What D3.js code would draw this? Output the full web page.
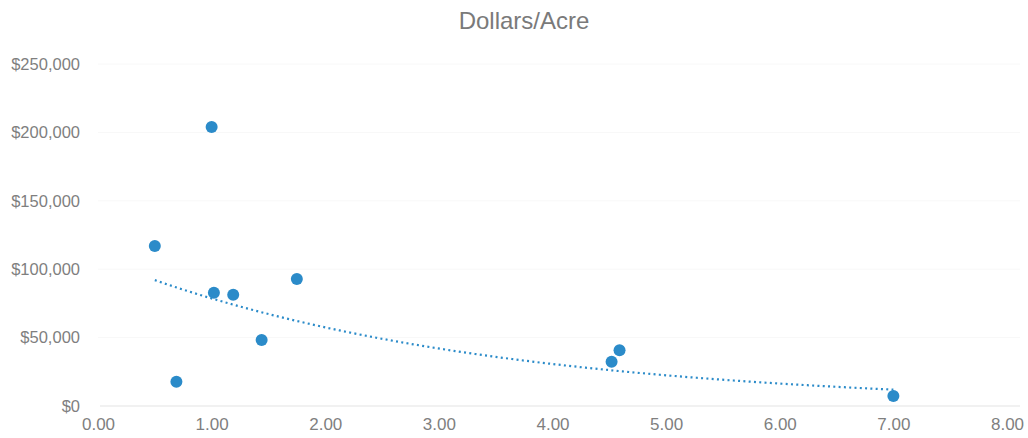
<!DOCTYPE html>
<html>
<head>
<meta charset="utf-8">
<script src="https://cdn.jsdelivr.net/npm/d3@7"></script>
<style>
body { margin: 0; background: #fff; }
</style>
</head>
<body>
<div id="chart"></div>
<script>
// data
const acres = [0.50, 0.69, 1.00, 1.02, 1.19, 1.44, 1.75, 4.52, 4.59, 7.00];
const dollarsPerAcre = [117000, 17800, 204000, 82800, 81400, 48200, 92800, 32400, 40700, 7300];
const xTicks = [0, 1, 2, 3, 4, 5, 6, 7, 8];
const yTicks = [0, 50000, 100000, 150000, 200000, 250000];
const title = "Dollars/Acre";

const width = 1028, height = 438;
const blue = "#2b8bc9";

var svg = d3.select("#chart").append("svg")
	.attr("width", width)
	.attr("height", height)

var x = d3.scaleLinear().domain([0, 8]).range([98, 1007])
var y = d3.scaleLinear().domain([0, 250000]).range([406, 64])

// title
svg.append("text")
	.attr("x", 524)
	.attr("y", 29)
	.attr("text-anchor", "middle")
	.style("font-family", "Liberation Sans Narrow, Arial Narrow, sans-serif")
	.style("font-size", "24px")
	.style("fill", "#7a7a7a")
	.text(title)

// faint gridlines
svg.append("g")
	.selectAll("line")
	.data(yTicks.slice(1))
	.join("line")
	.attr("x1", x(0)).attr("x2", 1020)
	.attr("y1", d => y(d)).attr("y2", d => y(d))
	.style("stroke", "#f8f8f8")
	.style("stroke-width", 1)

// y axis labels
var yAxis = svg.append("g")
	.attr("transform", "translate(80,0)")
	.call(d3.axisLeft(y).tickValues(yTicks).tickSize(0).tickPadding(0)
		.tickFormat(d => "$" + d3.format(",")(d)))
yAxis.select(".domain").remove()
yAxis.selectAll("text")
	.style("font-family", "Liberation Sans, Arial, sans-serif")
	.style("font-size", "16.5px")
	.style("fill", "#7f7f7f")

// x axis
var xAxis = svg.append("g")
	.attr("transform", "translate(0,406)")
	.call(d3.axisBottom(x).tickValues(xTicks).tickSize(0).tickPadding(12)
		.tickFormat(d3.format(".2f")))
xAxis.select(".domain").remove()
xAxis.selectAll("text")
	.style("font-family", "Liberation Sans, Arial, sans-serif")
	.style("font-size", "17px")
	.style("fill", "#7f7f7f")

svg.append("line")
	.attr("x1", x(0) + 2).attr("x2", 1020)
	.attr("y1", y(0)).attr("y2", y(0))
	.style("stroke", "#e4e4e4")
	.style("stroke-width", 1.2)

// exponential trendline (least squares on ln y)
const lny = dollarsPerAcre.map(v => Math.log(v));
const mx = d3.mean(acres), my = d3.mean(lny);
const b = d3.sum(acres, (a, i) => (a - mx) * (lny[i] - my)) / d3.sum(acres, a => (a - mx) * (a - mx));
const A = Math.exp(my - b * mx);
const xmin = d3.min(acres), xmax = d3.max(acres);
const trend = d3.range(0, 61).map(i => {
	const t = xmin + (xmax - xmin) * i / 60;
	return [t, A * Math.exp(b * t)];
});

svg.append("path")
	.datum(trend)
	.attr("d", d3.line().x(d => x(d[0])).y(d => y(d[1])))
	.style("fill", "none")
	.style("stroke", blue)
	.style("stroke-width", 2.2)
	.style("stroke-dasharray", "2,3.3")

// points
svg.append("g")
	.selectAll("circle")
	.data(acres)
	.join("circle")
	.attr("cx", d => x(d))
	.attr("cy", (d, i) => y(dollarsPerAcre[i]))
	.attr("r", 6)
	.style("fill", blue)
</script>
</body>
</html>
